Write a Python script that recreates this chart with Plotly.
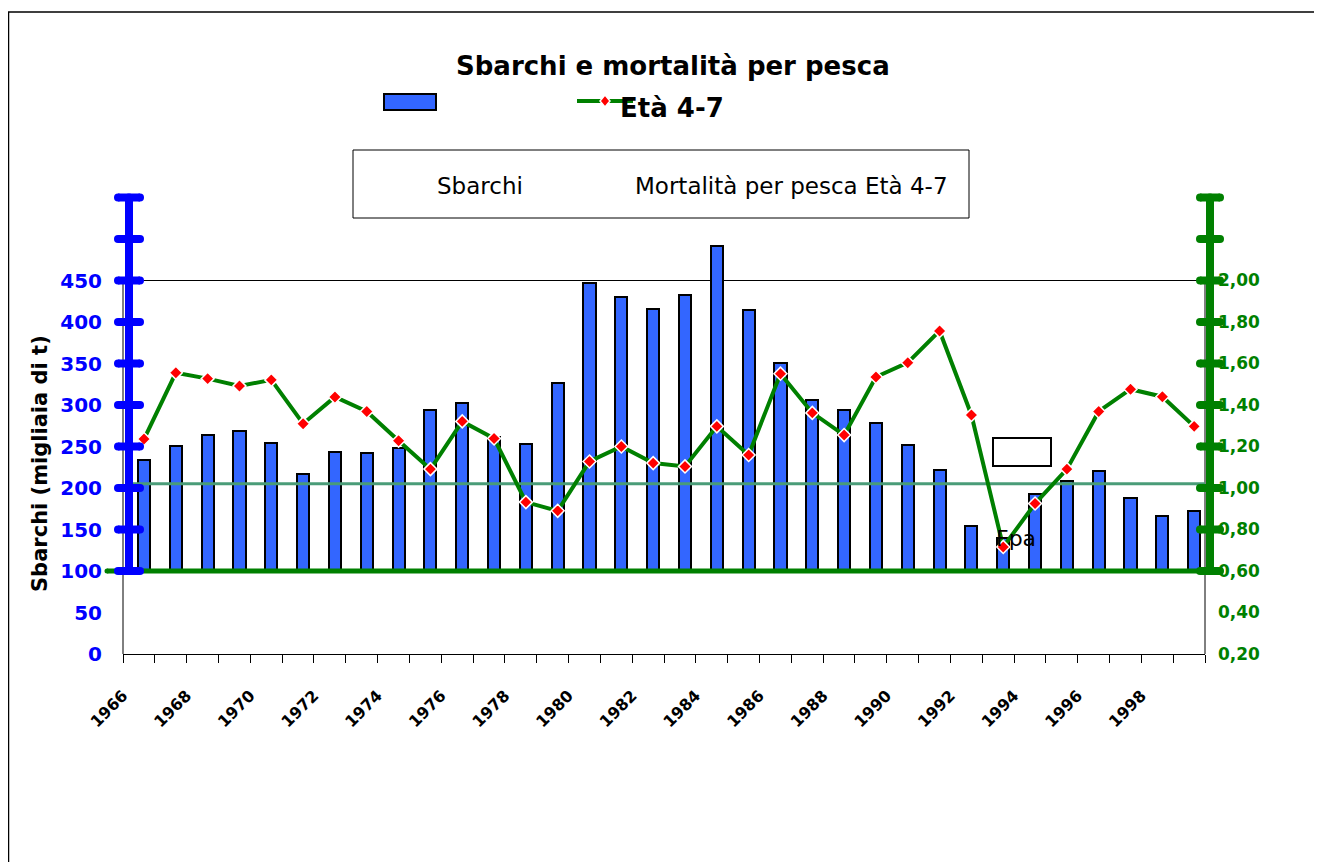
import plotly.graph_objects as go

# ---------------- data ----------------
years = list(range(1966, 2000))
sbarchi = [234, 251, 264, 269, 254, 217, 243, 242, 248, 294,
           303, 262, 253, 327, 447, 430, 416, 432, 491, 415,
           351, 306, 294, 278, 252, 222, 154, 140, 193, 208,
           221, 188, 166, 172]
mortalita = [1.236, 1.555, 1.527, 1.492, 1.521, 1.310, 1.439, 1.369, 1.228, 1.091,
             1.321, 1.239, 0.932, 0.890, 1.128, 1.200, 1.120, 1.104, 1.297, 1.159,
             1.551, 1.362, 1.255, 1.535, 1.604, 1.757, 1.352, 0.716, 0.925, 1.091,
             1.369, 1.476, 1.440, 1.297]
label_years = list(range(1966, 1999, 2))
left_ticks = list(range(0, 451, 50))
right_ticks = [0.2, 0.4, 0.6, 0.8, 1.0, 1.2, 1.4, 1.6, 1.8, 2.0]
blue_axis_ticks = list(range(100, 551, 50))
green_axis_ticks = [0.6, 0.8, 1.0, 1.2, 1.4, 1.6, 1.8, 2.0, 2.2, 2.4]
bar_base = 100
fpa_level = 1.02
floor_level = 0.60
left_frame_top = 450

# ---------------- geometry ----------------
W, H = 1322, 862
OFF = 8  # page body margin
PX0, PX1 = 123, 1205
PY_TOP, PY_BOT = 239, 654   # plot area extended up to value 500 so tall bars are not clipped


def px(x):
    return (x - OFF) / W


def py(y):
    return 1 - (y - OFF) / H


xdom = [px(PX0), px(PX1)]
ydom = [py(PY_BOT), py(PY_TOP)]
L_RANGE = [0, 500]
R_RANGE = [0.2, 2.2]


def yl(v):
    return ydom[0] + (v - L_RANGE[0]) / (L_RANGE[1] - L_RANGE[0]) * (ydom[1] - ydom[0])


def yr(v):
    return ydom[0] + (v - R_RANGE[0]) / (R_RANGE[1] - R_RANGE[0]) * (ydom[1] - ydom[0])


SHIFT = 0.66
xpos = [y + SHIFT for y in years]
all_ticks = list(range(1966, 2001))
tick_text = [str(t) if t in label_years else "" for t in all_ticks]

FONT = "DejaVu Sans"
BLUE = "#0000ff"
GREEN = "#008000"

fig = go.Figure()
fig.add_trace(go.Bar(
    x=xpos, y=[v - bar_base for v in sbarchi], base=bar_base, width=0.38,
    marker=dict(color="#3366ff", line=dict(color="black", width=2)),
    yaxis="y", name="Sbarchi", showlegend=False))
fig.add_trace(go.Scatter(
    x=[1966.22, 2000], y=[fpa_level, fpa_level], mode="lines",
    line=dict(color="#4a9c78", width=3), yaxis="y2", showlegend=False, hoverinfo="skip"))
fig.add_trace(go.Scatter(
    x=xpos, y=mortalita, mode="lines+markers",
    line=dict(color=GREEN, width=4),
    marker=dict(symbol="diamond", size=10, color="#ff0000", line=dict(color="white", width=1.5)),
    yaxis="y2", name="Mortalità per pesca Età 4-7", showlegend=False))

shapes = []


def rounded_line(x0, y0, x1, y1, color, width):
    shapes.append(dict(type="line", xref="paper", yref="paper", x0=x0, y0=y0, x1=x1, y1=y1,
                       line=dict(color=color, width=width), layer="above"))
    r = width / 2
    for (cx, cy) in [(x0, y0), (x1, y1)]:
        shapes.append(dict(type="circle", xref="paper", yref="paper",
                           xsizemode="pixel", ysizemode="pixel", xanchor=cx, yanchor=cy,
                           x0=-r, x1=r, y0=-r, y1=r,
                           fillcolor=color, line=dict(width=0), layer="above"))


# outer border
shapes.append(dict(type="rect", xref="paper", yref="paper", x0=px(8.5), y0=py(870), x1=px(1330), y1=py(12),
                   line=dict(color="black", width=1.5), fillcolor="rgba(0,0,0,0)", layer="below"))

# plot frame (top at 450, sides)
for (x0, y0, x1, y1) in [(px(PX0), yl(left_frame_top), px(PX1), yl(left_frame_top)),
                         (px(PX0), yl(0), px(PX0), yl(left_frame_top)),
                         (px(PX1), yl(0), px(PX1), yl(left_frame_top))]:
    shapes.append(dict(type="line", xref="paper", yref="paper", x0=x0, y0=y0, x1=x1, y1=y1,
                       line=dict(color="black", width=1), layer="below"))

# thick green floor line
rounded_line(px(107), yr(floor_level), px(1212), yr(floor_level), GREEN, 5)

# blue left axis
rounded_line(px(129), yl(blue_axis_ticks[0]), px(129), yl(blue_axis_ticks[-1]), BLUE, 8)
for t in blue_axis_ticks:
    rounded_line(px(118), yl(t), px(140), yl(t), BLUE, 8)

# green right axis
rounded_line(px(1210), yr(green_axis_ticks[0]), px(1210), yr(green_axis_ticks[-1]), GREEN, 8)
for t in green_axis_ticks:
    rounded_line(px(1200), yr(t), px(1220), yr(t), GREEN, 8)

# legend box
shapes.append(dict(type="rect", xref="paper", yref="paper", x0=px(353), y0=py(218), x1=px(969), y1=py(150),
                   line=dict(color="black", width=1), fillcolor="white", layer="above"))
# title legend symbols
shapes.append(dict(type="rect", xref="paper", yref="paper", x0=px(384), y0=py(110), x1=px(436), y1=py(94),
                   line=dict(color="black", width=2), fillcolor="#3366ff", layer="above"))
shapes.append(dict(type="line", xref="paper", yref="paper", x0=px(577), y0=py(101), x1=px(633), y1=py(101),
                   line=dict(color=GREEN, width=4), layer="above"))
shapes.append(dict(type="path", xref="paper", yref="paper",
                   path=f"M {px(605)},{py(95)} L {px(610)},{py(101)} L {px(605)},{py(107)} L {px(600)},{py(101)} Z",
                   fillcolor="#ff0000", line=dict(color="white", width=1.5), layer="above"))
# small empty box
shapes.append(dict(type="rect", xref="paper", yref="paper", x0=px(993), y0=py(466), x1=px(1051), y1=py(438),
                   line=dict(color="black", width=2), fillcolor="white", layer="above"))

annotations = [
    dict(text="<b>Sbarchi e mortalità per pesca</b>", x=px(673), y=py(66), xref="paper", yref="paper",
         showarrow=False, font=dict(family=FONT, size=26, color="black"), xanchor="center", yanchor="middle"),
    dict(text="<b>Età 4-7</b>", x=px(672), y=py(108), xref="paper", yref="paper",
         showarrow=False, font=dict(family=FONT, size=26, color="black"), xanchor="center", yanchor="middle"),
    dict(text="Sbarchi", x=px(480), y=py(186), xref="paper", yref="paper",
         showarrow=False, font=dict(family=FONT, size=23, color="black"), xanchor="center", yanchor="middle"),
    dict(text="Mortalità per pesca Età 4-7", x=px(791), y=py(186), xref="paper", yref="paper",
         showarrow=False, font=dict(family=FONT, size=23, color="black"), xanchor="center", yanchor="middle"),
    dict(text="Fpa", x=px(1016), y=py(538), xref="paper", yref="paper",
         showarrow=False, font=dict(family=FONT, size=22, color="black"), xanchor="center", yanchor="middle"),
    dict(text="<b>Sbarchi (migliaia di t)</b>", x=px(40), y=py(464), xref="paper", yref="paper",
         showarrow=False, textangle=-90, font=dict(family=FONT, size=21, color="black"),
         xanchor="center", yanchor="middle"),
]

fig.update_layout(
    width=W, height=H, autosize=False,
    margin=dict(l=0, r=0, t=0, b=0, pad=0, autoexpand=False),
    paper_bgcolor="white", plot_bgcolor="rgba(0,0,0,0)",
    separators=",.",
    showlegend=False,
    bargap=0,
    xaxis=dict(domain=xdom, range=[1966, 2000], tickmode="array", tickvals=all_ticks, ticktext=tick_text,
               tickangle=-45, tickfont=dict(family=FONT, size=16, color="black", weight="bold"),
               ticks="outside", ticklen=8, tickcolor="black", tickwidth=1,
               showline=True, linecolor="black", linewidth=1, mirror=False, automargin=False,
               showgrid=False, zeroline=False, ticklabelstandoff=17),
    yaxis=dict(domain=ydom, range=L_RANGE, tickmode="array", tickvals=left_ticks,
               tickfont=dict(family=FONT, size=20, color=BLUE, weight="bold"),
               ticks="", showline=False, automargin=False,
               showgrid=False, zeroline=False, ticklabelstandoff=20),
    yaxis2=dict(domain=ydom, range=R_RANGE, overlaying="y", side="right", anchor="x",
                tickmode="array", tickvals=right_ticks, tickformat=".2f",
                tickfont=dict(family=FONT, size=17, color=GREEN, weight="bold"),
                ticks="", showline=False, automargin=False,
                showgrid=False, zeroline=False, ticklabelstandoff=12),
    shapes=shapes,
    annotations=annotations,
)

fig.write_html("out.html")
